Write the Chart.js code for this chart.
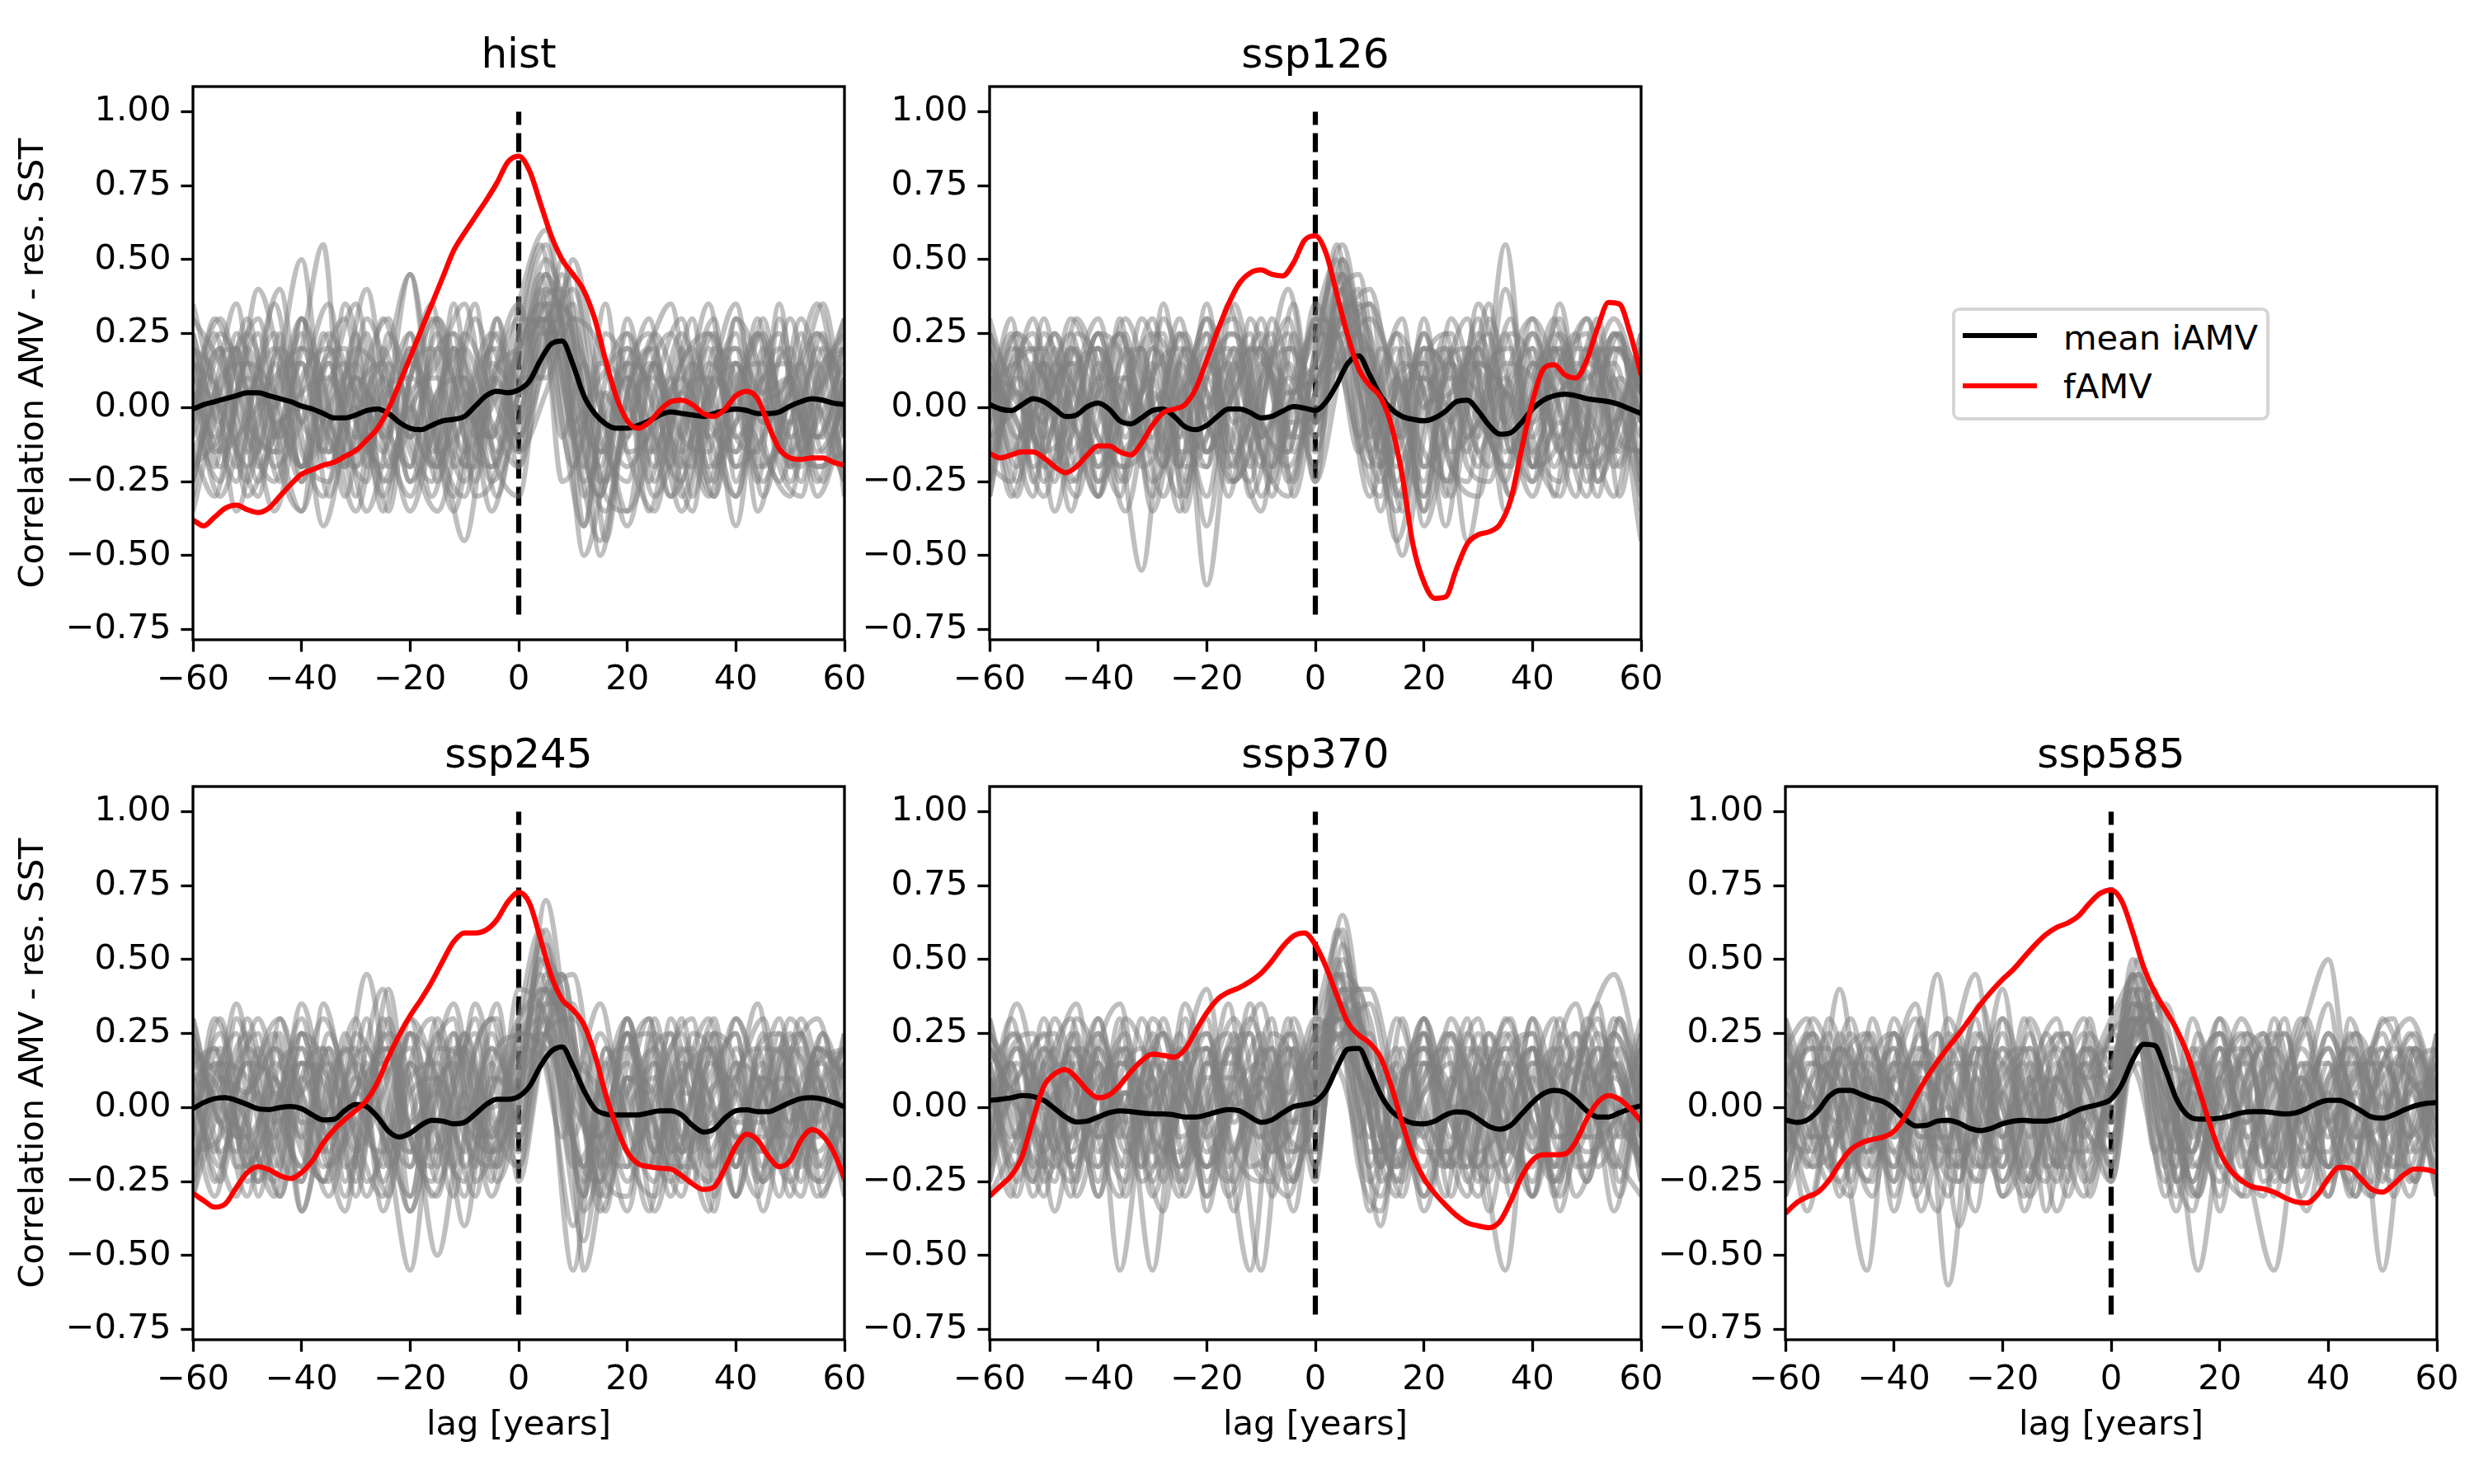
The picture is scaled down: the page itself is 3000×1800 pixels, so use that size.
<!DOCTYPE html>
<html><head><meta charset="utf-8">
<script src="https://cdn.jsdelivr.net/npm/chart.js@4.4.1/dist/chart.umd.min.js"></script>
<style>
html,body{margin:0;padding:0;background:#fff;width:3000px;height:1800px;overflow:hidden;font-family:"DejaVu Sans",sans-serif;}
canvas{position:absolute;}
#legend{position:absolute;left:2367px;top:373px;width:385px;height:137px;box-sizing:border-box;border:4px solid #d6d6d6;border-radius:9px;background:#fff;}
#legend .ln{position:absolute;left:9px;width:90px;height:6px;}
#legend .tx{position:absolute;left:131px;font-size:41.7px;line-height:50px;color:#000;white-space:nowrap;}
</style></head><body>
<div id="legend"></div>
<script>
// ---------------- DATA ----------------
const lagsFine = [-60,-58,-56,-54,-52,-50,-48,-46,-44,-42,-40,-38,-36,-34,-32,-30,-28,-26,-24,-22,-20,-18,-16,-14,-12,-10,-8,-6,-4,-2,0,2,4,6,8,10,12,14,16,18,20,22,24,26,28,30,32,34,36,38,40,42,44,46,48,50,52,54,56,58,60];
const lagsCoarse = [-60,-55,-50,-45,-40,-35,-30,-25,-20,-15,-10,-5,0,5,10,15,20,25,30,35,40,45,50,55,60];
const lagsAlt = [-60,-56,-52,-48,-44,-40,-36,-32,-28,-24,-20,-16,-12,-8,-4,0,4,8,12,16,20,24,28,32,36,40,44,48,52,56,60];
const xTicks = [-60,-40,-20,0,20,40,60];
const yTicks = [-0.75,-0.5,-0.25,0,0.25,0.5,0.75,1.0];
const dashX = [0,0];
const dashY = [-0.7,1.0];
const panelTitles = ['hist','ssp126','ssp245','ssp370','ssp585'];
const legendLabels = ['mean iAMV','fAMV'];
const yLabel = 'Correlation AMV - res. SST';
const xLabel = 'lag [years]';

const histRed = [-0.38,-0.40,-0.37,-0.34,-0.33,-0.345,-0.355,-0.34,-0.30,-0.26,
 -0.225,-0.21,-0.195,-0.185,-0.165,-0.145,-0.11,-0.07,-0.005,0.08,
 0.17,0.26,0.35,0.44,0.53,0.59,0.645,0.70,0.76,0.83,
 0.85,
 0.80,0.69,0.58,0.50,0.45,0.395,0.30,0.16,0.035,-0.045,
 -0.07,-0.05,-0.01,0.02,0.025,0.01,-0.02,-0.03,-0.005,0.04,
 0.055,0.03,-0.06,-0.14,-0.17,-0.175,-0.17,-0.17,-0.185,-0.195];
const histMean = [-0.005,0.01,0.02,0.03,0.04,0.05,0.05,0.04,0.03,0.02,
 0.005,-0.005,-0.02,-0.035,-0.035,-0.025,-0.01,-0.005,-0.02,-0.05,
 -0.07,-0.075,-0.06,-0.045,-0.04,-0.03,0.005,0.04,0.055,0.05,
 0.06,
 0.09,0.16,0.215,0.225,0.145,0.04,-0.02,-0.055,-0.07,-0.07,
 -0.06,-0.045,-0.025,-0.015,-0.02,-0.025,-0.03,-0.02,-0.01,-0.005,
 -0.01,-0.02,-0.02,-0.015,0.005,0.02,0.03,0.025,0.015,0.01];
const histMembers = [
 [0.25,-0.05,0.30,-0.10,0.15,-0.20,0.10,-0.15,0.20,-0.25,0.05,-0.10,0.15,0.45,0.05,-0.30,0.10,-0.15,0.20,-0.25,0.15,-0.05,0.30,-0.10,0.20],
 [-0.10,0.20,-0.15,0.35,-0.05,0.15,-0.30,0.20,-0.10,0.25,-0.20,0.10,0.00,0.35,0.30,-0.10,-0.25,0.15,-0.10,0.25,-0.15,0.10,-0.20,0.25,0.05],
 [0.10,0.00,-0.20,0.05,0.50,-0.15,0.00,-0.30,0.10,0.30,-0.10,-0.20,0.25,0.55,-0.05,-0.45,0.05,0.20,-0.30,0.05,0.35,-0.20,-0.05,0.15,-0.20],
 [-0.25,0.10,0.15,-0.20,-0.05,0.25,0.05,-0.10,-0.30,0.05,0.20,-0.05,-0.20,0.20,0.40,0.00,-0.20,-0.05,0.10,-0.10,-0.30,0.10,0.15,-0.15,0.00],
 [0.30,0.15,-0.10,-0.25,0.10,0.20,-0.05,-0.20,0.00,0.15,0.35,-0.15,-0.30,0.30,0.10,-0.20,0.25,0.00,-0.20,0.15,0.00,-0.25,0.05,0.25,-0.10],
 [0.05,-0.30,0.00,0.25,-0.15,-0.25,0.20,0.10,-0.15,-0.35,0.00,0.25,0.10,0.10,0.50,0.05,-0.35,-0.10,0.25,-0.05,-0.15,0.30,-0.20,-0.05,0.15],
 [-0.15,0.05,0.25,-0.05,-0.35,0.05,0.35,-0.10,0.15,0.00,-0.25,0.05,0.30,0.25,-0.20,0.15,0.05,-0.30,-0.05,0.35,-0.20,-0.10,0.10,-0.30,-0.05],
 [0.20,-0.15,-0.05,0.10,0.20,-0.10,-0.20,0.30,-0.05,-0.20,0.10,-0.35,0.05,0.40,0.20,-0.25,-0.10,0.25,0.00,-0.30,0.10,0.15,-0.25,0.10,0.25],
 [-0.05,0.25,0.05,-0.35,0.05,0.35,-0.20,0.00,0.25,-0.15,-0.05,0.20,-0.10,0.15,0.35,-0.50,0.00,0.10,-0.15,0.05,0.25,-0.30,0.00,-0.10,0.10],
 [0.15,0.05,-0.25,0.15,-0.20,0.00,0.15,-0.35,0.05,0.10,-0.15,0.00,0.20,0.50,0.25,0.00,-0.40,0.05,0.30,-0.20,-0.05,0.05,0.20,-0.20,-0.15],
 [-0.20,-0.10,0.10,0.00,0.25,-0.30,0.05,0.15,-0.25,0.05,0.10,-0.25,-0.05,0.35,-0.05,0.10,0.20,-0.25,0.05,0.10,-0.40,0.20,-0.10,0.05,0.30],
 [0.00,0.20,-0.30,-0.10,0.05,0.10,-0.10,-0.05,0.45,-0.10,-0.30,0.15,0.05,0.20,0.45,-0.15,0.00,-0.20,0.15,0.25,0.05,-0.15,-0.30,0.20,-0.05],
 [0.20,-0.20,0.15,0.05,-0.25,0.15,-0.15,0.10,-0.10,0.20,0.00,-0.10,0.35,0.60,0.00,-0.30,0.15,0.05,-0.35,0.00,0.20,0.05,0.10,-0.25,0.10],
 [-0.35,0.00,0.05,0.20,-0.05,-0.15,0.25,-0.25,0.00,-0.20,0.25,0.05,-0.15,0.05,0.30,0.20,-0.15,-0.35,0.05,-0.10,0.05,0.25,-0.15,0.00,-0.25],
 [0.10,0.30,-0.05,-0.15,0.30,0.00,-0.35,0.05,0.10,-0.05,-0.45,0.10,0.20,0.30,-0.10,0.05,-0.05,0.15,-0.10,-0.15,0.30,-0.05,0.05,0.35,-0.10],
 [-0.05,-0.25,0.20,-0.05,0.00,-0.05,0.10,-0.05,-0.20,0.30,0.05,-0.20,0.05,0.45,0.15,-0.05,0.10,-0.10,-0.25,0.20,-0.10,0.00,-0.05,0.05,0.20]
];
const histMembersB = [
 [0.10,-0.20,0.25,0.05,-0.25,0.30,-0.05,-0.20,0.15,0.30,-0.10,-0.25,0.20,0.05,-0.15,0.10,0.45,-0.05,-0.40,0.10,0.25,-0.15,0.00,0.30,-0.20,-0.05,0.25,0.05,-0.25,0.15,0.20],
 [-0.25,0.05,0.35,-0.10,-0.15,0.20,0.10,-0.30,0.05,0.20,0.45,-0.05,-0.30,0.10,0.20,-0.10,0.35,0.40,-0.15,-0.35,0.05,0.30,-0.10,-0.20,0.20,0.10,-0.25,0.30,-0.05,-0.10,0.25],
 [0.35,0.05,-0.20,0.15,0.40,-0.10,-0.30,0.00,0.25,-0.20,-0.05,0.30,0.10,-0.25,0.15,0.35,0.10,0.50,0.05,-0.25,-0.05,0.20,0.35,-0.10,-0.30,0.05,0.25,-0.15,0.10,0.35,-0.05],
 [0.00,0.25,-0.10,-0.30,0.10,0.15,-0.15,0.35,0.05,-0.35,0.10,0.20,-0.20,-0.05,0.30,-0.15,0.20,0.30,-0.30,0.00,0.15,-0.25,0.05,0.20,-0.05,-0.30,0.10,0.25,-0.15,-0.20,0.05],
 [-0.15,-0.30,0.05,0.25,-0.20,-0.35,0.15,0.20,-0.15,0.05,-0.25,-0.10,0.25,0.05,-0.30,0.05,0.30,0.15,-0.50,-0.20,0.20,0.05,-0.30,-0.15,0.15,0.20,-0.20,-0.10,0.25,-0.05,-0.25],
 [0.20,0.10,-0.35,-0.05,0.20,0.05,-0.40,-0.10,0.30,0.10,-0.20,0.15,0.25,-0.30,-0.20,0.25,0.55,0.10,-0.20,0.25,0.10,-0.35,-0.05,0.15,0.00,-0.20,0.05,0.20,-0.05,-0.25,0.10],
 [0.05,-0.10,0.15,0.30,-0.05,-0.20,0.25,-0.05,-0.35,-0.10,0.20,-0.05,-0.35,0.00,0.25,-0.10,0.25,0.35,0.05,-0.30,-0.35,0.10,0.25,0.00,-0.25,0.30,0.15,-0.20,-0.30,0.10,0.20],
 [-0.30,0.15,0.20,-0.20,0.05,0.30,0.00,-0.15,-0.25,0.25,0.05,-0.30,0.00,0.30,0.05,-0.05,0.40,-0.25,-0.10,0.35,-0.15,-0.10,0.10,-0.30,0.05,0.15,-0.35,-0.05,0.30,0.05,-0.20],
 [0.25,-0.05,-0.25,0.10,-0.10,0.20,0.55,-0.20,0.05,-0.10,0.25,-0.15,0.05,0.35,-0.20,0.20,0.30,-0.10,0.15,-0.45,0.05,0.20,-0.20,0.10,0.30,-0.25,0.00,0.05,0.15,-0.15,0.05],
 [-0.05,0.30,0.10,-0.25,-0.05,-0.20,0.15,0.30,-0.10,-0.25,0.10,0.35,-0.15,-0.20,0.30,0.05,0.15,0.45,-0.05,-0.15,0.30,-0.05,-0.30,0.05,0.25,-0.10,-0.15,0.35,-0.15,0.05,0.30],
 [0.15,-0.15,0.00,0.40,0.15,-0.20,-0.10,0.10,0.40,-0.05,-0.35,-0.10,0.20,-0.10,-0.05,0.20,0.35,0.15,-0.25,-0.10,0.15,0.25,-0.10,-0.35,0.10,0.00,0.30,-0.10,-0.20,0.20,0.10],
 [-0.20,0.00,0.20,-0.15,0.25,-0.25,0.05,0.15,-0.20,0.15,0.00,-0.20,0.35,-0.05,0.10,-0.20,0.25,0.25,-0.40,0.05,-0.10,0.15,0.00,-0.05,-0.30,0.15,-0.05,-0.25,0.00,0.25,-0.30]
];

const ssp126Red = [-0.155,-0.17,-0.16,-0.15,-0.15,-0.17,-0.20,-0.22,-0.20,-0.16,
 -0.13,-0.13,-0.15,-0.16,-0.12,-0.06,-0.017,-0.005,0.01,0.065,
 0.16,0.26,0.35,0.42,0.455,0.465,0.45,0.445,0.49,0.565,
 0.58,
 0.52,0.38,0.24,0.13,0.075,0.035,-0.06,-0.23,-0.465,-0.59,
 -0.645,-0.64,-0.545,-0.46,-0.43,-0.42,-0.395,-0.31,-0.14,0.02,
 0.13,0.145,0.11,0.10,0.16,0.27,0.355,0.35,0.25,0.11];
const ssp126Mean = [0.01,-0.005,-0.01,0.01,0.03,0.02,-0.005,-0.03,-0.025,0.003,
 0.015,-0.005,-0.045,-0.055,-0.035,-0.01,-0.005,-0.03,-0.065,-0.075,
 -0.06,-0.03,-0.005,-0.005,-0.017,-0.035,-0.03,-0.012,0.003,-0.002,
 -0.01,
 0.02,0.08,0.15,0.175,0.11,0.04,-0.005,-0.03,-0.04,-0.045,
 -0.035,-0.012,0.02,0.025,-0.012,-0.06,-0.09,-0.085,-0.05,-0.005,
 0.025,0.04,0.045,0.04,0.03,0.025,0.02,0.01,-0.005,-0.02];
const ssp126Members = [
 [0.20,-0.10,0.05,0.25,-0.20,0.10,-0.05,0.30,-0.15,0.05,0.20,-0.10,0.15,0.45,-0.10,0.10,-0.20,0.15,0.00,0.25,-0.15,0.10,0.30,-0.05,0.15],
 [-0.15,0.20,-0.25,0.05,0.30,-0.10,0.15,-0.20,0.35,-0.25,0.00,0.40,-0.05,0.20,0.35,-0.25,0.10,-0.05,0.30,-0.35,0.05,0.20,-0.10,0.25,-0.05],
 [0.05,-0.30,0.15,-0.05,-0.15,0.25,-0.35,0.05,0.10,-0.20,0.30,-0.15,0.35,0.10,-0.20,0.25,0.05,-0.30,0.15,0.05,-0.20,0.35,-0.15,-0.05,0.20],
 [0.25,0.05,-0.15,0.20,0.00,-0.25,0.20,0.05,-0.30,0.15,-0.10,0.05,-0.20,0.50,0.05,-0.15,0.20,0.10,-0.20,0.40,-0.10,-0.25,0.15,0.05,-0.20],
 [-0.25,0.15,0.20,-0.20,0.10,0.05,-0.15,0.25,0.05,-0.10,-0.35,0.20,0.10,0.30,0.40,-0.05,-0.30,0.20,-0.05,-0.10,0.25,0.00,-0.30,0.20,0.10],
 [0.10,-0.05,-0.30,0.10,0.20,-0.15,0.05,-0.10,0.20,0.30,-0.15,-0.30,0.20,0.55,0.00,-0.35,0.15,0.25,-0.15,0.05,-0.05,0.15,0.25,-0.20,0.00],
 [-0.05,0.25,0.10,-0.25,-0.05,0.30,0.00,-0.30,0.15,-0.05,0.10,0.25,-0.25,0.15,0.30,0.10,-0.15,-0.25,0.35,0.00,-0.30,0.05,0.10,0.15,-0.25],
 [0.15,-0.20,0.25,0.00,-0.30,0.05,0.25,0.10,-0.20,0.20,-0.05,-0.20,0.05,0.40,0.15,-0.45,-0.05,0.10,0.05,-0.25,0.20,-0.15,0.05,0.30,0.05],
 [-0.20,0.05,-0.05,0.30,0.05,-0.35,0.10,0.20,-0.05,-0.25,0.15,0.05,0.10,0.25,-0.05,0.20,-0.35,0.05,0.20,-0.15,0.00,0.30,-0.20,-0.10,0.25],
 [0.05,0.15,-0.20,-0.10,0.25,0.15,-0.25,-0.05,0.30,0.05,-0.20,0.15,-0.10,0.35,0.25,-0.10,0.25,-0.20,-0.30,0.15,0.10,-0.10,0.20,0.05,-0.30],
 [0.25,-0.15,0.00,0.15,-0.20,0.00,0.30,-0.15,-0.10,0.35,-0.05,-0.15,0.30,0.20,-0.30,0.05,0.10,0.00,0.25,-0.05,-0.25,0.25,0.00,-0.15,0.15],
 [-0.10,0.00,0.15,-0.35,0.15,-0.05,-0.10,0.25,-0.60,0.10,0.20,-0.05,0.00,0.45,0.10,-0.20,0.05,0.15,-0.10,0.55,-0.20,-0.05,-0.15,0.25,0.10],
 [0.00,0.25,-0.10,0.05,-0.25,0.20,0.00,-0.20,0.25,-0.15,0.05,0.30,-0.15,0.25,0.35,0.05,-0.25,0.30,0.00,-0.20,0.15,0.05,0.30,-0.10,-0.15],
 [0.15,-0.25,0.30,-0.15,0.05,0.10,-0.30,0.15,0.00,0.20,-0.30,0.00,0.25,0.50,-0.15,0.10,0.15,-0.15,-0.05,0.10,-0.15,-0.30,0.15,0.20,0.05],
 [-0.30,0.10,0.00,0.20,-0.10,-0.20,0.20,0.00,-0.15,0.05,0.25,-0.25,0.05,0.15,0.20,-0.30,0.00,0.05,0.20,-0.05,0.30,0.10,-0.05,-0.30,0.20],
 [0.10,0.05,-0.15,-0.05,0.25,-0.05,0.10,-0.35,0.10,0.25,-0.10,0.10,-0.05,0.30,0.05,0.25,-0.40,-0.05,0.15,0.05,-0.10,0.20,-0.25,0.10,-0.45]
];
const ssp126MembersB = [
 [0.20,-0.15,0.05,0.25,-0.10,-0.30,0.15,0.20,-0.20,0.05,0.30,-0.10,-0.25,0.15,0.05,0.30,0.50,-0.05,-0.20,0.15,0.05,-0.40,0.10,0.25,-0.15,0.05,0.30,-0.05,-0.20,0.20,0.05],
 [-0.30,0.10,0.25,-0.05,-0.25,0.20,0.05,-0.15,0.35,-0.10,-0.20,0.25,0.15,-0.30,0.05,0.10,0.40,0.25,-0.10,-0.30,0.20,0.10,-0.45,-0.05,0.25,0.15,-0.20,0.05,0.30,-0.10,-0.15],
 [0.05,0.25,-0.20,-0.05,0.30,0.10,-0.25,0.05,0.15,-0.35,0.10,0.20,-0.05,-0.20,0.25,-0.05,0.35,0.45,0.00,-0.10,0.30,-0.15,-0.25,0.15,0.20,-0.20,0.10,0.25,-0.25,0.00,0.20],
 [0.25,-0.05,-0.30,0.15,0.05,-0.15,0.30,-0.20,-0.10,0.20,0.05,-0.30,0.10,0.25,-0.15,0.15,0.25,-0.10,0.20,0.05,-0.35,0.15,0.20,-0.05,-0.30,0.10,0.20,-0.15,0.05,0.25,-0.25],
 [-0.10,0.20,0.10,-0.35,0.00,0.25,-0.10,-0.55,0.05,0.25,-0.05,-0.15,0.30,0.05,-0.25,0.20,0.45,0.05,-0.25,-0.05,0.25,0.00,-0.15,0.30,0.05,-0.25,-0.05,0.20,0.15,-0.20,0.10],
 [0.15,0.00,-0.15,0.20,-0.20,0.10,0.25,-0.05,-0.30,0.00,0.20,-0.20,-0.05,0.20,-0.30,0.05,0.30,0.35,-0.05,-0.50,-0.10,0.20,-0.05,-0.20,0.15,0.30,-0.10,-0.20,0.10,0.20,-0.05],
 [-0.20,-0.25,0.15,0.05,0.20,-0.25,-0.10,0.30,0.10,-0.20,-0.10,0.35,0.00,-0.25,0.10,0.25,0.20,-0.15,0.10,0.30,-0.20,-0.10,0.15,0.05,-0.30,0.00,0.25,0.10,-0.25,-0.05,0.25],
 [0.30,0.05,-0.05,-0.25,0.25,0.15,-0.20,-0.15,0.30,0.05,-0.40,0.05,0.20,0.10,-0.10,-0.05,0.35,0.20,-0.35,0.05,0.15,-0.30,0.20,-0.10,0.10,0.20,-0.30,0.15,0.05,-0.15,0.20],
 [0.00,0.30,-0.25,0.10,0.15,-0.30,0.05,0.20,-0.15,0.10,0.25,-0.25,-0.15,0.30,0.10,0.15,0.55,-0.10,-0.30,0.20,0.00,0.25,-0.20,-0.25,0.05,0.25,-0.05,-0.30,0.20,0.05,-0.10],
 [-0.15,0.05,0.30,-0.10,-0.30,0.05,0.25,0.00,-0.20,0.20,-0.15,0.10,0.25,-0.20,0.00,0.30,0.15,0.25,0.05,-0.35,0.10,0.20,-0.10,0.05,0.30,-0.20,-0.15,0.05,0.25,-0.30,0.15],
 [0.10,-0.30,-0.05,0.25,0.05,-0.10,-0.30,0.15,0.25,-0.25,0.00,0.15,-0.30,-0.05,0.35,-0.10,0.25,0.40,-0.20,0.00,0.20,-0.25,0.00,0.35,-0.15,-0.05,0.20,0.00,-0.30,0.10,0.00],
 [-0.25,0.15,0.20,-0.20,0.10,0.20,-0.15,-0.05,0.05,-0.30,0.15,0.05,-0.20,0.15,0.20,-0.25,0.30,0.15,-0.15,0.10,-0.30,0.10,0.30,-0.10,-0.20,0.15,0.05,-0.20,0.15,0.25,-0.35]
];

const ssp245Red = [-0.29,-0.315,-0.337,-0.325,-0.27,-0.22,-0.20,-0.21,-0.23,-0.24,
 -0.22,-0.18,-0.12,-0.075,-0.04,-0.01,0.025,0.085,0.17,0.245,
 0.31,0.365,0.425,0.495,0.56,0.59,0.59,0.60,0.635,0.695,
 0.727,
 0.69,0.57,0.445,0.365,0.33,0.28,0.18,0.045,-0.065,-0.15,
 -0.19,-0.20,-0.205,-0.208,-0.23,-0.258,-0.277,-0.268,-0.205,-0.13,
 -0.09,-0.11,-0.165,-0.20,-0.18,-0.11,-0.075,-0.095,-0.15,-0.24];
const ssp245Mean = [-0.004,0.017,0.03,0.033,0.024,0.01,-0.004,-0.007,0.0,0.003,
 -0.004,-0.025,-0.042,-0.04,-0.01,0.01,0.003,-0.032,-0.08,-0.10,
 -0.087,-0.06,-0.043,-0.046,-0.055,-0.05,-0.022,0.01,0.028,0.028,
 0.037,
 0.072,0.14,0.19,0.205,0.14,0.058,-0.004,-0.022,-0.025,-0.025,
 -0.025,-0.018,-0.011,-0.011,-0.025,-0.06,-0.083,-0.073,-0.036,-0.011,
 -0.008,-0.014,-0.014,0.0,0.017,0.03,0.033,0.028,0.017,0.003];
const ssp245Members = [
 [0.30,-0.05,0.15,-0.20,0.25,-0.10,0.05,0.40,-0.15,0.10,-0.05,0.20,0.05,0.70,0.10,-0.10,0.25,-0.15,0.10,0.20,-0.10,0.05,0.25,-0.05,0.15],
 [-0.10,0.30,-0.15,0.10,-0.25,0.20,-0.10,-0.30,0.15,-0.20,0.25,-0.10,0.25,0.20,-0.55,0.05,-0.20,0.30,-0.15,-0.05,0.10,0.30,-0.15,0.20,-0.20],
 [0.15,0.05,-0.30,0.20,0.05,-0.15,0.25,0.05,-0.35,0.05,0.20,-0.25,0.40,0.30,-0.10,0.25,-0.05,-0.25,0.20,0.05,-0.30,0.05,0.10,-0.20,0.05],
 [-0.25,0.15,0.10,-0.10,0.15,0.05,-0.25,0.20,0.05,-0.50,0.05,0.30,-0.10,0.45,0.20,-0.30,0.10,0.05,-0.25,0.15,0.05,-0.25,0.15,0.30,-0.10],
 [0.05,-0.25,0.20,0.05,-0.20,0.25,-0.05,-0.15,0.25,0.10,-0.30,0.10,0.05,0.35,0.45,-0.10,-0.20,0.25,0.00,-0.35,0.20,-0.05,-0.25,0.05,0.20],
 [0.20,0.10,-0.05,-0.30,0.10,-0.05,0.15,-0.05,-0.20,0.30,-0.10,-0.20,0.15,0.55,0.05,-0.15,0.30,-0.10,0.10,-0.10,0.15,-0.20,0.10,-0.15,0.00],
 [-0.05,0.20,-0.20,0.15,0.00,-0.30,0.05,0.15,-0.10,-0.05,0.25,-0.05,-0.20,0.25,0.30,0.05,-0.35,0.15,-0.10,0.25,-0.20,0.10,-0.05,0.10,-0.30],
 [0.10,-0.15,0.05,0.25,-0.35,0.10,0.20,-0.25,0.10,0.15,-0.20,0.05,0.30,0.40,-0.20,-0.05,0.15,-0.20,0.30,-0.20,-0.05,0.15,-0.30,0.20,0.10],
 [-0.20,0.05,0.25,-0.15,0.20,-0.20,-0.05,0.10,0.20,-0.25,0.05,-0.30,0.10,0.50,0.25,-0.25,0.00,0.10,-0.15,0.10,0.25,-0.35,0.05,-0.10,0.25],
 [0.25,-0.05,-0.10,0.05,-0.10,0.20,-0.30,0.25,-0.05,0.05,-0.15,0.20,-0.05,0.30,0.10,0.35,-0.15,-0.30,0.05,0.00,-0.15,0.20,0.15,-0.25,-0.05],
 [0.00,0.25,-0.25,-0.05,0.30,-0.10,0.10,-0.10,-0.30,0.20,0.15,-0.15,0.20,0.15,-0.40,0.10,0.20,-0.05,-0.30,0.20,-0.05,-0.05,0.20,0.05,-0.25],
 [-0.15,-0.10,0.15,0.10,-0.05,0.00,0.30,-0.35,0.05,0.10,-0.40,0.15,-0.15,0.35,0.35,-0.20,0.05,0.20,-0.10,-0.25,0.30,0.05,-0.10,0.20,0.10],
 [0.20,0.00,-0.10,-0.25,0.15,0.10,-0.15,0.05,0.30,-0.15,0.00,-0.10,0.25,0.60,-0.10,-0.25,0.25,-0.15,0.15,0.05,-0.20,0.25,-0.20,0.00,0.15],
 [-0.30,0.10,0.05,0.20,-0.15,-0.25,0.05,-0.05,-0.15,0.25,-0.05,-0.15,0.00,0.20,0.15,0.05,-0.25,0.05,0.25,-0.15,0.05,-0.15,0.05,-0.30,-0.15],
 [0.05,-0.20,0.30,-0.05,0.05,0.15,-0.20,0.30,-0.10,-0.30,0.20,0.00,0.10,0.25,0.00,-0.10,0.10,-0.35,0.05,0.30,-0.10,-0.10,0.30,0.10,-0.10],
 [0.10,0.15,-0.20,0.00,0.25,-0.05,0.00,-0.20,0.15,-0.10,-0.25,0.25,-0.05,0.40,0.20,-0.35,-0.05,0.15,-0.20,0.05,0.10,-0.25,-0.05,0.15,0.20]
];
const ssp245MembersB = [
 [0.25,-0.10,-0.30,0.15,0.30,-0.05,-0.25,0.10,0.20,-0.15,-0.55,0.00,0.25,-0.10,-0.05,0.30,0.60,0.20,-0.35,-0.10,0.25,0.05,-0.30,0.05,0.30,-0.15,-0.10,0.25,0.05,-0.20,0.15],
 [-0.15,0.30,0.10,-0.25,-0.05,0.35,0.05,-0.30,0.05,0.25,0.10,-0.30,-0.10,0.35,0.05,-0.20,0.35,0.45,-0.05,-0.30,0.15,0.30,-0.10,-0.25,0.10,0.25,-0.15,-0.05,0.30,0.05,-0.25],
 [0.10,0.05,0.35,-0.05,-0.30,0.05,0.30,0.10,-0.25,-0.10,0.30,0.15,-0.20,0.05,0.35,-0.10,0.20,0.35,-0.55,-0.15,0.30,0.00,-0.20,0.25,0.15,-0.30,0.00,0.20,-0.10,0.25,0.05],
 [-0.30,-0.05,0.15,0.25,-0.15,-0.25,0.20,0.00,0.30,-0.20,-0.05,0.20,0.30,-0.25,-0.10,0.20,0.30,0.05,-0.20,0.20,-0.05,-0.35,0.10,0.20,-0.20,0.05,0.35,-0.10,-0.30,0.10,0.20],
 [0.20,-0.25,0.00,0.10,0.25,-0.35,-0.05,0.20,0.05,0.40,-0.10,-0.25,0.10,0.25,-0.20,0.05,0.50,0.25,-0.20,0.10,0.30,-0.10,-0.25,0.05,0.25,-0.10,-0.30,0.15,0.25,-0.05,-0.20],
 [0.05,0.20,-0.20,-0.15,0.15,0.20,-0.10,-0.35,0.10,0.20,-0.20,0.05,0.15,-0.20,0.20,0.25,0.35,-0.05,-0.45,0.05,0.25,-0.20,0.05,0.15,-0.30,0.10,0.20,-0.20,0.00,0.25,-0.15],
 [-0.20,0.10,0.25,-0.30,0.05,0.15,-0.15,0.25,-0.05,-0.30,0.15,0.30,-0.05,-0.30,0.10,0.05,0.40,0.30,0.05,-0.25,-0.30,0.15,0.25,-0.15,0.05,0.30,0.05,-0.30,0.10,0.15,-0.05],
 [0.30,0.00,-0.15,0.20,-0.05,-0.20,0.35,0.05,-0.30,0.00,0.25,-0.15,0.05,0.30,-0.05,0.15,0.25,0.10,-0.30,0.20,0.05,-0.20,0.30,0.00,-0.35,0.15,0.10,-0.10,0.20,-0.30,0.05],
 [-0.05,-0.30,0.05,0.30,0.05,-0.10,-0.25,0.05,0.45,0.05,-0.35,-0.05,0.20,0.10,-0.25,0.00,0.55,0.15,-0.25,-0.05,0.20,0.25,-0.20,-0.20,0.25,0.15,-0.25,0.05,0.25,-0.10,-0.05],
 [0.15,0.20,-0.05,-0.25,0.30,0.05,-0.20,-0.10,0.15,-0.15,0.25,0.00,-0.30,0.20,0.30,-0.25,0.15,0.45,0.00,-0.35,0.10,0.05,0.25,-0.10,-0.05,-0.30,0.20,0.25,-0.20,0.05,0.20],
 [-0.25,0.15,-0.10,0.05,-0.20,0.25,0.15,-0.20,-0.05,0.30,-0.10,-0.20,0.25,-0.05,-0.20,0.25,0.20,-0.10,0.15,-0.20,0.05,0.30,-0.15,-0.05,0.20,-0.20,0.10,0.05,-0.25,0.20,0.10],
 [0.05,-0.15,0.30,0.05,-0.30,0.10,0.20,-0.25,0.00,0.20,-0.30,0.10,0.35,0.00,-0.15,0.10,0.45,0.05,-0.30,0.15,-0.15,-0.05,0.20,0.30,-0.25,-0.15,0.05,0.30,-0.15,-0.25,0.25]
];

const ssp370Red = [-0.30,-0.265,-0.23,-0.165,-0.04,0.072,0.114,0.128,0.10,0.058,
 0.033,0.042,0.075,0.12,0.158,0.18,0.176,0.17,0.197,0.26,
 0.32,0.366,0.39,0.405,0.426,0.454,0.495,0.544,0.58,0.59,
 0.55,
 0.474,0.377,0.287,0.245,0.218,0.17,0.072,-0.053,-0.164,-0.24,
 -0.29,-0.33,-0.365,-0.39,-0.40,-0.406,-0.385,-0.316,-0.233,-0.178,
 -0.16,-0.16,-0.157,-0.115,-0.039,0.017,0.04,0.028,-0.004,-0.046];
const ssp370Mean = [0.024,0.028,0.033,0.04,0.037,0.024,-0.004,-0.032,-0.049,-0.046,
 -0.032,-0.018,-0.011,-0.014,-0.018,-0.021,-0.022,-0.025,-0.032,-0.032,
 -0.025,-0.014,-0.007,-0.011,-0.032,-0.05,-0.042,-0.018,0.003,0.01,
 0.02,
 0.058,0.135,0.197,0.20,0.128,0.044,-0.011,-0.039,-0.053,-0.055,
 -0.046,-0.025,-0.015,-0.018,-0.039,-0.064,-0.073,-0.06,-0.022,0.017,
 0.047,0.058,0.051,0.024,-0.011,-0.032,-0.032,-0.018,-0.004,0.006];
const ssp370Members = [
 [0.25,-0.10,0.20,-0.15,0.30,-0.05,0.10,-0.20,0.15,0.00,-0.10,0.25,0.10,0.65,0.05,-0.20,0.25,-0.10,0.10,-0.05,0.20,-0.15,0.25,0.45,0.10],
 [-0.10,0.35,-0.05,-0.25,0.05,0.20,-0.30,0.10,0.40,-0.15,0.05,-0.25,0.00,0.45,0.30,-0.15,0.05,0.20,-0.20,0.10,-0.10,0.30,-0.10,-0.05,0.20],
 [0.05,0.00,-0.30,0.25,-0.15,0.05,-0.55,0.15,-0.05,0.25,-0.20,0.05,0.25,0.30,-0.35,0.05,-0.10,0.30,-0.05,-0.55,0.15,0.05,-0.25,0.15,-0.10],
 [-0.25,0.20,0.05,-0.05,0.15,-0.30,0.15,0.00,-0.20,0.10,0.35,-0.10,-0.15,0.40,0.20,0.00,-0.30,0.05,0.20,0.00,-0.25,0.15,0.05,-0.20,0.25],
 [0.15,-0.25,0.10,0.30,-0.20,0.10,0.05,-0.30,0.20,-0.35,0.10,0.05,0.30,0.20,-0.10,0.30,0.00,-0.20,0.05,0.25,-0.05,-0.25,0.30,0.05,-0.20],
 [0.00,0.10,0.25,-0.20,0.05,0.25,-0.15,0.05,-0.10,0.05,-0.55,0.20,0.05,0.50,0.10,-0.25,0.20,-0.05,-0.30,0.10,0.25,-0.05,-0.10,0.25,0.00],
 [0.30,-0.05,-0.20,0.05,0.25,-0.10,0.20,-0.20,0.05,0.30,0.00,-0.20,0.15,0.25,0.35,-0.05,-0.20,0.25,0.00,-0.25,0.00,0.20,-0.25,0.10,-0.05],
 [-0.20,0.15,0.00,0.10,-0.30,0.05,-0.05,0.25,-0.25,0.05,0.15,-0.05,0.05,0.35,-0.20,0.10,0.15,-0.30,0.15,0.05,-0.15,0.10,0.20,-0.35,0.15],
 [0.10,-0.30,0.15,-0.10,0.10,0.15,-0.20,0.00,0.25,-0.15,-0.25,0.30,-0.20,0.55,0.15,-0.10,0.05,0.15,-0.25,0.30,0.05,-0.30,0.05,0.15,-0.25],
 [-0.05,0.20,-0.15,0.20,-0.05,-0.25,0.25,-0.10,0.00,0.20,-0.10,0.00,0.20,0.30,-0.05,-0.30,0.30,0.00,0.05,-0.15,0.30,0.00,-0.15,-0.05,0.30],
 [0.20,0.05,0.05,-0.30,0.20,0.00,0.05,0.15,-0.30,0.00,0.25,-0.15,-0.05,0.40,0.40,0.05,-0.15,-0.15,0.25,-0.10,-0.20,0.25,0.10,0.20,-0.15],
 [-0.30,-0.10,0.20,0.05,-0.10,0.20,-0.10,-0.15,0.10,0.10,-0.05,0.15,0.00,0.20,0.05,0.20,-0.25,0.10,-0.05,0.20,-0.05,-0.20,0.25,-0.10,0.05],
 [0.15,0.25,-0.25,0.00,0.15,-0.15,0.00,0.20,-0.05,-0.25,0.20,0.00,0.30,0.60,-0.15,-0.10,0.10,0.25,-0.15,-0.05,0.15,0.10,-0.20,0.30,0.10],
 [0.05,-0.15,0.10,0.15,-0.25,0.30,0.10,-0.25,0.15,0.15,-0.15,-0.30,0.10,0.25,0.25,-0.20,-0.05,-0.20,0.10,0.15,-0.30,0.05,0.15,-0.15,-0.30],
 [-0.15,0.05,-0.10,0.20,0.05,-0.20,0.30,0.10,-0.15,0.00,0.05,0.20,-0.10,0.35,0.00,0.15,-0.35,0.05,0.30,-0.20,0.10,-0.10,0.00,0.25,0.05],
 [0.10,-0.20,0.30,-0.15,-0.05,0.05,-0.25,0.05,0.20,-0.05,0.10,-0.10,0.20,0.10,-0.25,0.05,0.20,-0.05,-0.20,0.05,0.20,-0.35,0.10,0.00,-0.20]
];
const ssp370MembersB = [
 [0.30,-0.05,-0.25,0.15,0.35,-0.10,-0.30,0.10,0.25,-0.20,0.00,0.35,-0.15,-0.25,0.20,0.05,0.60,0.25,-0.20,0.05,0.30,-0.15,-0.20,0.25,0.05,-0.30,0.15,0.35,-0.05,-0.20,0.20],
 [-0.20,0.25,0.10,-0.35,0.05,0.30,-0.05,-0.20,0.15,0.00,-0.30,0.20,0.25,-0.15,-0.05,0.25,0.45,0.30,-0.05,-0.30,0.10,0.20,-0.20,0.05,0.25,-0.10,-0.25,0.10,0.30,-0.05,-0.15],
 [0.05,0.15,-0.20,0.05,-0.25,0.20,0.35,-0.10,-0.35,0.15,0.20,-0.20,0.05,0.30,-0.25,0.10,0.35,0.05,-0.40,0.10,0.25,-0.10,-0.30,0.15,0.20,0.05,-0.25,-0.05,0.25,0.10,-0.20],
 [-0.05,-0.30,0.20,0.25,-0.10,-0.20,0.15,0.05,-0.20,0.30,-0.10,-0.25,0.10,0.20,-0.05,-0.05,0.40,0.15,-0.15,0.20,-0.05,-0.30,0.20,0.10,-0.15,0.20,0.05,-0.30,-0.10,0.30,0.05],
 [0.20,0.05,-0.10,-0.25,0.20,0.10,-0.55,-0.05,0.25,0.05,-0.20,-0.05,0.35,-0.05,-0.25,0.20,0.30,0.40,-0.10,-0.25,0.15,0.05,0.30,-0.20,-0.10,0.30,-0.10,-0.05,0.20,-0.25,0.10],
 [-0.15,0.20,0.25,-0.10,-0.20,0.25,0.05,-0.25,-0.10,0.35,0.05,-0.30,-0.10,0.25,0.15,-0.25,0.50,-0.05,-0.30,0.00,0.25,-0.15,-0.05,0.20,-0.30,0.05,0.20,-0.15,0.05,0.15,-0.25],
 [0.10,-0.20,-0.05,0.30,0.05,-0.30,0.10,0.20,-0.05,-0.25,0.15,0.25,-0.20,-0.10,0.30,0.10,0.20,0.35,-0.25,-0.15,-0.05,0.25,0.10,-0.35,0.05,0.20,-0.20,0.10,0.35,-0.10,-0.05],
 [0.25,0.10,-0.30,-0.05,0.15,-0.05,0.30,-0.20,0.05,0.20,-0.35,0.05,0.25,-0.30,0.05,0.20,0.35,-0.10,0.15,0.05,-0.30,-0.05,0.25,0.05,-0.25,0.10,0.30,-0.20,-0.15,0.20,0.00],
 [-0.25,0.05,0.15,-0.15,0.30,0.15,-0.20,0.05,-0.25,0.15,0.25,-0.15,-0.55,0.10,0.25,0.00,0.45,0.20,0.05,-0.20,0.15,0.10,-0.25,0.15,0.30,-0.15,-0.05,0.20,-0.20,-0.05,0.25],
 [0.00,0.30,-0.05,-0.20,-0.05,0.20,-0.10,0.30,0.05,-0.30,-0.05,0.20,0.05,-0.15,0.20,-0.20,0.35,0.25,-0.20,0.10,0.20,-0.20,0.05,0.25,-0.10,-0.30,0.10,0.25,0.05,-0.30,0.10],
 [0.15,-0.10,0.05,0.20,-0.30,-0.05,0.20,-0.05,0.30,-0.05,-0.20,0.10,0.30,0.05,-0.35,0.15,0.25,0.10,-0.10,0.30,-0.10,-0.20,0.15,-0.05,0.20,0.25,-0.30,0.00,0.20,0.10,-0.20],
 [-0.10,0.15,-0.25,0.05,0.25,-0.10,-0.05,0.15,-0.15,0.05,0.30,-0.15,0.00,0.20,-0.15,0.25,0.30,-0.20,-0.35,0.05,0.30,0.05,-0.15,-0.25,0.15,0.05,-0.20,0.25,-0.05,0.30,-0.10]
];

const ssp585Red = [-0.358,-0.323,-0.302,-0.286,-0.247,-0.19,-0.143,-0.12,-0.108,-0.10,
 -0.08,-0.032,0.037,0.10,0.155,0.204,0.25,0.30,0.35,0.394,
 0.433,0.467,0.509,0.55,0.585,0.609,0.624,0.648,0.69,0.724,
 0.735,
 0.696,0.592,0.474,0.391,0.329,0.266,0.183,0.072,-0.046,-0.15,
 -0.212,-0.247,-0.268,-0.275,-0.286,-0.305,-0.319,-0.323,-0.295,-0.24,
 -0.202,-0.205,-0.24,-0.277,-0.286,-0.26,-0.226,-0.208,-0.21,-0.219];
const ssp585Mean = [-0.042,-0.05,-0.042,-0.011,0.037,0.058,0.058,0.044,0.03,0.02,
 -0.004,-0.039,-0.062,-0.06,-0.046,-0.043,-0.053,-0.071,-0.078,-0.07,
 -0.055,-0.046,-0.043,-0.046,-0.046,-0.039,-0.025,-0.008,0.003,0.012,
 0.028,
 0.079,0.162,0.214,0.21,0.128,0.03,-0.025,-0.039,-0.039,-0.036,
 -0.028,-0.018,-0.014,-0.014,-0.018,-0.022,-0.018,-0.004,0.014,0.024,
 0.024,0.01,-0.011,-0.032,-0.036,-0.025,-0.008,0.006,0.014,0.017];
const ssp585Members = [
 [0.20,-0.10,0.40,-0.15,0.10,-0.05,0.15,0.45,-0.10,0.05,-0.15,0.20,0.05,0.50,0.00,-0.15,0.20,-0.10,0.05,0.25,0.50,-0.10,0.15,0.30,0.05],
 [-0.15,0.25,-0.05,-0.55,0.25,-0.10,0.00,-0.20,0.20,-0.25,0.10,-0.10,0.25,0.30,-0.15,0.15,-0.05,0.20,-0.20,0.10,-0.10,0.20,-0.55,0.10,-0.15],
 [0.05,0.00,0.20,0.05,-0.20,0.30,-0.60,0.10,-0.05,0.25,-0.20,0.00,-0.10,0.35,0.20,-0.25,0.10,-0.20,-0.55,0.05,0.15,-0.30,0.05,-0.10,0.20],
 [0.25,-0.20,-0.10,0.20,0.05,-0.15,0.20,-0.05,-0.25,0.10,0.30,-0.25,0.10,0.25,-0.05,0.05,-0.30,0.25,0.10,-0.15,-0.05,0.10,0.20,-0.25,0.05],
 [-0.25,0.10,0.15,-0.20,0.30,-0.05,-0.15,0.25,0.05,-0.30,0.00,0.25,-0.20,0.40,0.30,-0.10,0.15,-0.05,0.20,-0.30,0.05,0.25,-0.10,0.05,-0.25],
 [0.10,0.20,-0.30,0.10,-0.10,0.15,0.05,-0.35,0.30,0.00,-0.25,0.10,0.20,0.20,-0.20,0.30,-0.10,-0.25,0.20,0.00,-0.20,0.05,0.25,-0.15,0.15],
 [0.00,-0.30,0.25,-0.05,0.15,-0.25,0.25,0.05,-0.10,0.20,-0.05,-0.30,0.10,0.45,0.10,-0.30,0.05,0.15,-0.10,0.15,-0.25,-0.05,0.10,0.20,-0.10],
 [0.30,0.05,-0.05,0.25,-0.30,0.05,-0.05,0.20,-0.30,0.05,0.20,0.00,-0.15,0.30,0.25,-0.05,-0.25,0.10,0.25,-0.25,0.10,0.15,-0.20,0.05,0.10],
 [-0.10,0.15,0.05,-0.15,0.00,0.25,-0.20,-0.10,0.25,-0.20,0.05,0.30,0.00,0.15,-0.30,0.10,0.25,-0.15,-0.05,0.30,-0.05,-0.30,0.15,-0.05,-0.20],
 [0.15,-0.05,-0.25,0.05,0.20,-0.35,0.10,0.15,-0.05,0.10,-0.35,0.05,0.30,0.45,0.05,-0.20,0.00,0.20,-0.25,0.00,0.20,-0.10,-0.05,0.25,0.00],
 [-0.20,0.30,0.10,0.00,-0.15,0.10,0.00,-0.25,0.15,-0.10,0.15,-0.20,0.05,0.25,0.35,0.00,-0.15,0.05,0.15,-0.10,-0.15,0.25,0.05,-0.30,0.20],
 [0.05,-0.15,0.15,0.25,-0.05,-0.20,0.30,0.00,-0.20,0.30,0.05,-0.05,-0.25,0.35,-0.10,-0.35,0.20,0.00,-0.15,0.20,0.00,-0.20,0.30,0.10,-0.05],
 [0.20,0.05,-0.20,-0.10,0.25,0.00,-0.30,0.20,0.00,-0.25,0.25,0.10,0.15,0.40,0.15,0.10,-0.20,-0.30,0.30,-0.05,0.25,0.00,-0.15,-0.20,0.25],
 [-0.30,-0.05,0.20,-0.05,-0.20,0.20,0.10,-0.05,-0.15,0.15,-0.10,-0.15,0.05,0.20,0.05,-0.15,0.30,0.05,-0.20,0.05,-0.30,0.15,0.00,0.15,-0.30],
 [0.10,0.25,-0.10,0.15,0.05,-0.10,-0.10,0.30,-0.25,0.00,0.10,-0.05,0.25,0.10,-0.25,0.20,0.00,-0.05,0.10,-0.20,0.15,-0.15,0.20,-0.10,0.10],
 [-0.05,-0.20,0.05,-0.25,0.10,0.15,-0.15,-0.10,0.10,0.20,-0.20,0.15,-0.05,0.30,0.20,-0.25,0.10,0.25,-0.30,0.10,-0.05,0.05,-0.25,0.20,-0.15]
];
const ssp585MembersB = [
 [0.15,-0.20,0.05,0.30,-0.05,-0.25,0.10,0.25,-0.20,0.05,0.40,-0.10,-0.25,0.10,0.20,0.05,0.50,0.20,-0.25,0.00,0.20,-0.20,0.00,0.25,-0.10,-0.30,0.05,0.20,-0.05,-0.25,0.10],
 [-0.25,0.05,0.25,-0.10,-0.30,0.10,0.30,-0.05,-0.20,0.20,-0.10,-0.30,0.10,0.25,-0.15,0.10,0.45,0.05,-0.35,0.10,0.25,-0.05,-0.20,0.10,0.30,-0.05,-0.25,0.05,0.20,0.10,-0.20],
 [0.05,0.25,-0.15,-0.30,0.15,0.25,-0.10,-0.35,0.10,0.35,0.00,-0.25,-0.05,0.20,0.05,-0.20,0.35,0.30,-0.10,-0.30,0.05,0.30,0.10,-0.25,-0.05,0.25,0.05,-0.30,0.10,0.25,-0.05],
 [-0.10,-0.15,0.30,0.05,-0.20,0.00,0.20,0.10,-0.40,0.00,0.20,0.05,-0.20,-0.10,0.25,0.15,0.30,-0.05,-0.20,0.20,-0.20,-0.10,0.25,0.00,-0.20,0.10,0.20,-0.15,-0.25,0.15,0.20],
 [0.25,0.05,-0.20,0.15,0.10,-0.35,0.00,0.15,0.25,-0.20,-0.15,0.30,0.05,-0.30,0.05,0.25,0.40,0.10,-0.15,0.05,0.30,-0.15,-0.30,0.05,0.15,-0.20,0.30,0.05,-0.20,-0.05,0.25],
 [-0.30,0.15,0.10,-0.20,0.30,0.00,-0.20,0.25,-0.05,-0.20,0.05,0.15,-0.35,0.05,0.15,-0.05,0.35,0.25,-0.05,-0.55,-0.10,0.15,0.25,-0.10,-0.35,0.00,0.20,0.05,-0.15,0.20,-0.05],
 [0.10,-0.05,-0.25,0.20,-0.15,0.15,0.35,-0.15,-0.25,0.10,0.30,-0.05,0.00,0.20,-0.25,0.05,0.25,0.35,0.00,-0.20,0.15,0.20,-0.25,-0.15,0.10,0.35,-0.15,-0.30,0.05,0.20,-0.10],
 [0.20,0.30,-0.05,-0.15,0.05,0.20,-0.30,-0.05,0.20,0.05,-0.30,-0.15,0.25,0.05,-0.10,-0.15,0.40,0.00,-0.30,0.15,0.05,-0.30,0.15,0.25,-0.05,-0.20,0.10,0.15,-0.30,0.00,0.15],
 [-0.15,0.00,0.15,-0.25,0.20,-0.10,0.05,0.45,-0.10,-0.25,0.15,0.20,-0.15,-0.20,0.20,0.10,0.30,0.15,-0.15,0.25,-0.05,-0.25,0.05,0.30,-0.20,0.05,-0.30,0.20,0.30,-0.15,-0.05],
 [0.05,-0.35,0.00,0.25,0.05,-0.15,-0.25,0.10,0.15,-0.15,0.05,-0.20,0.20,0.25,-0.30,0.05,0.45,-0.15,0.05,0.10,-0.35,0.05,0.20,-0.20,0.05,0.20,-0.10,-0.25,0.15,0.05,-0.30],
 [-0.05,0.20,0.20,-0.15,-0.25,0.15,0.10,-0.20,0.00,0.25,-0.20,0.05,0.10,-0.25,0.30,-0.10,0.25,0.40,-0.25,-0.10,0.25,0.10,-0.20,0.05,0.25,-0.20,-0.15,0.15,0.10,-0.25,0.15],
 [0.30,-0.10,-0.10,0.10,0.25,-0.25,0.15,0.05,-0.25,0.20,0.15,-0.35,-0.05,0.15,0.05,-0.25,0.20,0.30,-0.05,-0.30,0.10,0.25,-0.05,-0.25,0.15,0.00,0.25,-0.10,-0.20,0.20,0.05]
];

// ---------------- LAYOUT / STYLE ----------------
const FONT = '"DejaVu Sans", sans-serif';
const TICK_PX = 41.7, TITLE_PX = 50;
const LW = 6.25;
const AX_W = 790, AX_H = 671;
const PADL = 230, PADT = 90, PADR = 50, PADB = 140;
const panels = [
  {title: panelTitles[0], red: histRed,   mean: histMean,   members: histMembers,   membersB: histMembersB,   L: 234,  T: 105, yl: true,  xl: false},
  {title: panelTitles[1], red: ssp126Red, mean: ssp126Mean, members: ssp126Members, membersB: ssp126MembersB, L: 1200, T: 105, yl: false, xl: false},
  {title: panelTitles[2], red: ssp245Red, mean: ssp245Mean, members: ssp245Members, membersB: ssp245MembersB, L: 234,  T: 954, yl: true,  xl: true},
  {title: panelTitles[3], red: ssp370Red, mean: ssp370Mean, members: ssp370Members, membersB: ssp370MembersB, L: 1200, T: 954, yl: false, xl: true},
  {title: panelTitles[4], red: ssp585Red, mean: ssp585Mean, members: ssp585Members, membersB: ssp585MembersB, L: 2165, T: 954, yl: false, xl: true}
];

Chart.defaults.font.family = FONT;
Chart.defaults.color = '#000';

const minus = s => s.replace('-', '\u2212');
const zip = (xs, ys) => xs.map((x, i) => ({x: x, y: ys[i]}));

const panelDeco = {
  id: 'panelDeco',
  afterDatasetsDraw(chart, args, opts) {
    const ctx = chart.ctx, a = chart.chartArea;
    ctx.save();
    ctx.strokeStyle = '#000';
    ctx.lineWidth = 3.3;
    ctx.strokeRect(a.left, a.top, a.right - a.left, a.bottom - a.top);
    ctx.fillStyle = '#000';
    ctx.textAlign = 'center';
    ctx.textBaseline = 'alphabetic';
    const cx = (a.left + a.right) / 2;
    ctx.font = TITLE_PX + 'px ' + FONT;
    ctx.fillText(opts.title, cx, a.top - 23);
    ctx.font = TICK_PX + 'px ' + FONT;
    if (opts.xlabel) ctx.fillText(opts.xlabel, cx, a.bottom + 115);
    if (opts.ylabel) {
      ctx.translate(a.left - 182, (a.top + a.bottom) / 2);
      ctx.rotate(-Math.PI / 2);
      ctx.fillText(opts.ylabel, 0, 0);
    }
    ctx.restore();
  }
};

function axisCommon() {
  return {
    type: 'linear',
    grid: {display: true, drawOnChartArea: false, drawTicks: true, tickLength: 14.6, tickWidth: 3.3, tickColor: '#000'},
    border: {display: false}
  };
}

panels.forEach(p => {
  const cv = document.createElement('canvas');
  const w = AX_W + PADL + PADR, h = AX_H + PADT + PADB;
  cv.width = w; cv.height = h;
  cv.style.width = w + 'px'; cv.style.height = h + 'px';
  cv.style.left = (p.L - PADL) + 'px';
  cv.style.top = (p.T - PADT) + 'px';
  document.body.appendChild(cv);

  const grayStyle = {borderColor: 'rgba(128,128,128,0.5)', borderWidth: LW, order: 2};
  const datasets = [];
  datasets.push({label: legendLabels[1], data: zip(lagsFine, p.red), borderColor: '#ff0000', borderWidth: LW, order: 0});
  datasets.push({label: legendLabels[0], data: zip(lagsFine, p.mean), borderColor: '#000000', borderWidth: LW, order: 1});
  p.members.forEach((m, i) => {
    datasets.push(Object.assign({label: 'iAMV member ' + (i + 1), data: zip(lagsCoarse, m)}, grayStyle));
  });
  p.membersB.forEach((m, i) => {
    datasets.push(Object.assign({label: 'iAMV member ' + (p.members.length + i + 1), data: zip(lagsAlt, m)}, grayStyle));
  });
  datasets.push({label: 'lag 0', data: zip(dashX, dashY), borderColor: '#000000', borderWidth: LW, borderDash: [23, 10], order: 3, tension: 0, cubicInterpolationMode: 'default'});

  const xs = Object.assign(axisCommon(), {
    min: -60, max: 60,
    afterBuildTicks: s => { s.ticks = xTicks.map(v => ({value: v})); },
    afterFit: s => { s.height = PADB; },
    ticks: {callback: v => minus(String(v)), font: {size: TICK_PX}, color: '#000', padding: 10, maxRotation: 0, minRotation: 0, autoSkip: false}
  });
  const ys = Object.assign(axisCommon(), {
    min: -0.785, max: 1.085,
    afterBuildTicks: s => { s.ticks = yTicks.map(v => ({value: v})); },
    afterFit: s => { s.width = PADL; },
    ticks: {callback: v => minus(Number(v).toFixed(2)), font: {size: TICK_PX}, color: '#000', padding: 12, autoSkip: false}
  });

  new Chart(cv, {
    type: 'line',
    data: {datasets: datasets},
    options: {
      responsive: false, animation: false, devicePixelRatio: 1,
      layout: {padding: {left: 0, top: PADT, right: PADR, bottom: 0}},
      elements: {point: {radius: 0}, line: {cubicInterpolationMode: 'monotone', borderCapStyle: 'butt', borderJoinStyle: 'round', fill: false}},
      plugins: {
        legend: {display: false}, tooltip: {enabled: false}, title: {display: false},
        panelDeco: {title: p.title, xlabel: p.xl ? xLabel : null, ylabel: p.yl ? yLabel : null}
      },
      scales: {x: xs, y: ys}
    },
    plugins: [panelDeco]
  });
});

// ---------------- LEGEND ----------------
const legendColors = ['#000000', '#ff0000'];
const lg = document.getElementById('legend');
const lineTops = [27, 88];
const textTops = [8, 67];
legendLabels.forEach((lab, i) => {
  const ln = document.createElement('div');
  ln.className = 'ln';
  ln.style.top = lineTops[i] + 'px';
  ln.style.background = legendColors[i];
  lg.appendChild(ln);
  const tx = document.createElement('div');
  tx.className = 'tx';
  tx.style.top = textTops[i] + 'px';
  tx.textContent = lab;
  lg.appendChild(tx);
});
</script>
</body></html>
